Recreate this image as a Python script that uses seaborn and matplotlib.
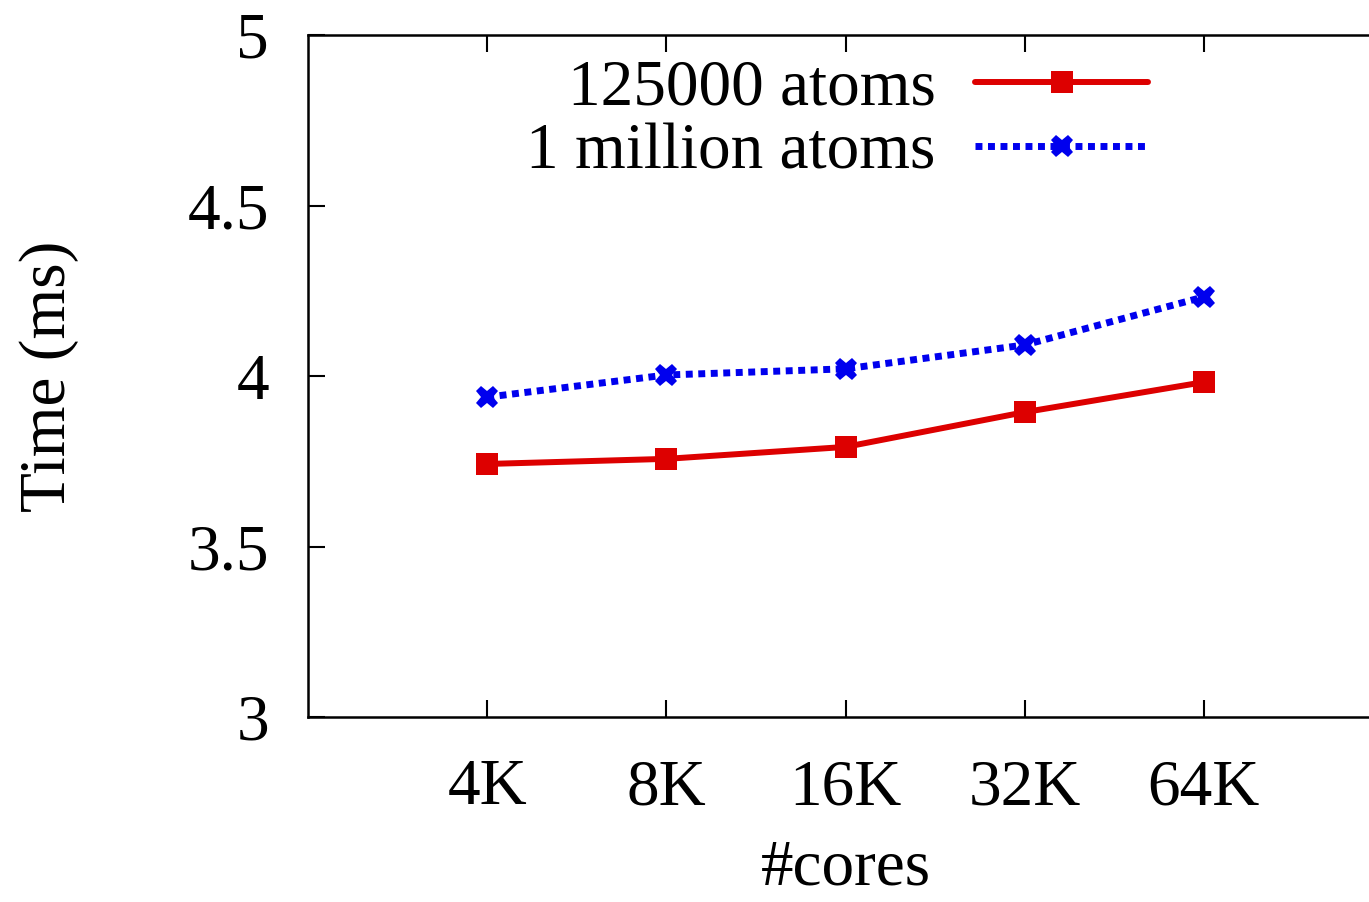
import matplotlib
matplotlib.use("Agg")
import matplotlib.pyplot as plt
import seaborn as sns
import pandas as pd

cores = ["4K", "8K", "16K", "32K", "64K"]
atoms_125k = [3.742, 3.757, 3.792, 3.894, 3.982]
atoms_1m = [3.938, 4.003, 4.021, 4.091, 4.232]

sns.set_theme(style="ticks")
plt.rcParams['font.family'] = ['Liberation Serif', 'DejaVu Serif']
for k in ["text.color", "axes.labelcolor", "xtick.color", "ytick.color", "axes.edgecolor"]:
    plt.rcParams[k] = "black"

W, H = 1369, 902
fig = plt.figure(figsize=(W / 100, H / 100), dpi=100)
ax = fig.add_axes([308 / W, (H - 717) / H, 1075 / W, 682 / H])

pos = list(range(len(cores)))
df1 = pd.DataFrame({"x": pos, "y": atoms_125k})
df2 = pd.DataFrame({"x": pos, "y": atoms_1m})

sns.lineplot(data=df1, x="x", y="y", ax=ax, color="#dd0000", lw=4.3,
             marker="s", markersize=16, markeredgewidth=0,
             label="125000 atoms")
sns.lineplot(data=df2, x="x", y="y", ax=ax, color="#0000ee", lw=5,
             linestyle=(0, (1, 0.8)), dash_capstyle="butt",
             marker="X", markersize=16, markeredgewidth=0,
             label="1 million atoms")

ax.set_xlim(-1, 5)
ax.set_ylim(3, 5)
ax.set_xticks(pos)
ax.set_xticklabels(cores)
ax.set_yticks([3, 3.5, 4, 4.5, 5])
ax.set_yticklabels(["3", "3.5", "4", "4.5", "5"])
ax.tick_params(axis="both", direction="in", length=12, width=1.5,
               labelsize=47, top=True, right=False)
ax.tick_params(axis="x", pad=30)
ax.tick_params(axis="y", pad=28)
for s in ax.spines.values():
    s.set_linewidth(1.8)
    s.set_color("black")

ax.set_xlabel("#cores", fontsize=47, labelpad=15)
ax.set_ylabel("Time (ms)", fontsize=47, labelpad=78)

leg = ax.legend(loc="upper right", bbox_to_anchor=(1148 / W, 1 - 59 / H),
                bbox_transform=fig.transFigure, borderpad=0, borderaxespad=0,
                markerfirst=False, frameon=False, fontsize=47,
                handlelength=2.65, handletextpad=0.6, labelspacing=0.07)

fig.savefig("out.png", dpi=100)
